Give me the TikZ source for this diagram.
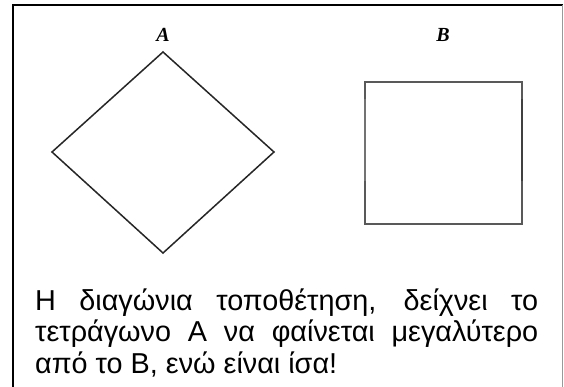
\documentclass[tikz,border=0pt]{standalone}
\usepackage{fontspec}
\setmainfont{Liberation Sans}
\newfontfamily\labelfont{Liberation Serif}
\begin{document}
\begin{tikzpicture}[x=1pt,y=-1pt,
  frame/.style={line width=2pt,black},
  frameR/.style={line width=1pt,gray!80},
  fig/.style={line width=1.5pt,black!85,line join=miter},
  figB/.style={line width=1.4pt,black!65},
  lab/.style={font=\labelfont\bfseries\itshape\fontsize{20}{22}\selectfont,inner sep=0pt}]
\useasboundingbox (0,0) rectangle (564,387);
\fill[white] (0,0) rectangle (564,387);
% frame
\coordinate (tl) at (12.5,5.5);
\coordinate (tr) at (562.5,5.5);
\coordinate (bl) at (12.5,387);
\coordinate (br) at (562.5,387);
\draw[frame] (bl) -- (tl) -- (tr);
\draw[frameR] (tr) -- (br);
% labels
\node[lab] (la) at (163,35) {A};
\node[lab] (lb) at (443,35) {B};
% diamond A
\coordinate (at) at (163,52);
\coordinate (ar) at (274,152);
\coordinate (ab) at (163,253);
\coordinate (al) at (52,152);
\draw[fig] (at) -- (ar) -- (ab) -- (al) -- cycle;
% square B
\coordinate (b1) at (365,82);
\coordinate (b2) at (522,82);
\coordinate (b3) at (522,224);
\coordinate (b4) at (365,224);
\draw[figB] (b1) -- (b2) -- (b3) -- (b4) -- cycle;
\draw[line width=2pt,black!55] (365,99) -- (365,181);
\draw[line width=2pt,black!75] (522,99) -- (522,181);
% text
\node[anchor=base west,inner sep=0pt] (txt) at (35,310) {\parbox[t]{503pt}{\fontsize{28.8}{31.5}\selectfont
Η διαγώνια τοποθέτηση, δείχνει το\linebreak
τετράγωνο Α να φαίνεται μεγαλύτερο\linebreak
από το Β, ενώ είναι ίσα!}};
\end{tikzpicture}
\end{document}
